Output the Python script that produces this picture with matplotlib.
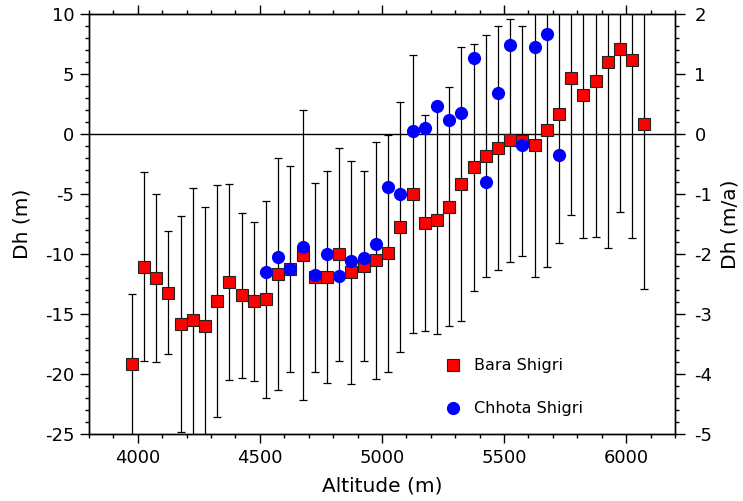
import matplotlib
matplotlib.use("Agg")
import matplotlib.pyplot as plt
from matplotlib.ticker import MultipleLocator

plt.rcParams['font.family'] = ['DejaVu Sans']
plt.rcParams['axes.unicode_minus'] = False

# Altitude bins (m)
altitude = [3975, 4025, 4075, 4125, 4175, 4225, 4275, 4325, 4375, 4425,
            4475, 4525, 4575, 4625, 4675, 4725, 4775, 4825, 4875, 4925,
            4975, 5025, 5075, 5125, 5175, 5225, 5275, 5325, 5375, 5425,
            5475, 5525, 5575, 5625, 5675, 5725, 5775, 5825, 5875, 5925,
            5975, 6025, 6075]

# Bara Shigri elevation change Dh (m)
bara_dh = [-19.2, -11.05, -12.03, -13.22, -15.85, -15.5, -16.0, -13.92, -12.35, -13.45,
           -13.95, -13.78, -11.67, -11.25, -10.08, -11.95, -11.92, -10.04, -11.53, -10.99,
           -10.54, -9.95, -7.76, -5.02, -7.39, -7.14, -6.06, -4.19, -2.77, -1.84,
           -1.16, -0.53, -0.58, -0.89, 0.33, 1.64, 4.64, 3.25, 4.39, 5.97,
           7.08, 6.19, 0.83]

# Bara Shigri error (m)
bara_err = [5.85, 7.9, 7.0, 5.1, 9.0, 11.0, 9.9, 9.7, 8.15, 6.9,
            6.6, 8.2, 9.7, 8.55, 12.1, 7.9, 8.8, 8.85, 9.3, 7.9,
            9.85, 9.9, 10.4, 11.6, 9.0, 9.5, 9.95, 11.4, 10.3, 10.05,
            10.2, 10.1, 9.6, 11.05, 11.45, 10.7, 11.4, 11.9, 12.95, 15.45,
            13.6, 14.85, 13.75]

# Chhota Shigri altitude bins (m) and Dh (m/a)
chhota_alt = [4525, 4575, 4625, 4675, 4725, 4775, 4825, 4875, 4925, 4975,
              5025, 5075, 5125, 5175, 5225, 5275, 5325, 5375, 5425, 5475,
              5525, 5575, 5625, 5675, 5725]
chhota_dh = [-2.294, -2.056, -2.25, -1.878, -2.35, -2.006, -2.362, -2.112, -2.072, -1.838,
             -0.878, -1.0, 0.056, 0.094, 0.472, 0.234, 0.344, 1.262, -0.8, 0.678,
             1.488, -0.184, 1.444, 1.662, -0.35]

fig = plt.figure(figsize=(7.43, 5.01), dpi=100)
ax = fig.add_axes([89/743, 67/501, 586/743, 420/501])

ax.axhline(0, color='black', lw=1.0, zorder=1)
ax.errorbar(altitude, bara_dh, yerr=bara_err, fmt='none', ecolor='black',
            elinewidth=0.9, capsize=2.6, capthick=0.9, zorder=2)
h1, = ax.plot(altitude, bara_dh, 's', color='#ff0000', markersize=9,
              markeredgecolor='#222222', markeredgewidth=0.8, zorder=3,
              label='Bara Shigri')

ax.set_xlim(3800, 6200)
ax.set_ylim(-25, 10)
ax.xaxis.set_major_locator(MultipleLocator(500))
ax.xaxis.set_minor_locator(MultipleLocator(100))
ax.yaxis.set_major_locator(MultipleLocator(5))
ax.yaxis.set_minor_locator(MultipleLocator(1))
ax.tick_params(which='both', direction='out', top=True, right=False,
               labelsize=13, width=1.0, colors='black')
ax.tick_params(which='major', length=6.5, pad=4)
ax.tick_params(which='minor', length=3)
ax.set_xlabel('Altitude (m)', fontsize=14.5, labelpad=7.5)
ax.set_ylabel('Dh (m)', fontsize=14.5, labelpad=9.5)

ax2 = ax.twinx()
h2, = ax2.plot(chhota_alt, chhota_dh, 'o', color='#0000ff', markersize=9.5,
               markeredgewidth=0, zorder=4, label='Chhota Shigri')
ax2.set_ylim(-5, 2)
ax2.yaxis.set_major_locator(MultipleLocator(1))
ax2.yaxis.set_minor_locator(MultipleLocator(0.2))
ax2.tick_params(which='both', direction='out', labelsize=13, width=1.0)
ax2.tick_params(which='major', length=7, pad=7)
ax2.tick_params(which='minor', length=3)
ax2.set_ylabel('Dh (m/a)', fontsize=14.5, labelpad=6)

for a in (ax, ax2):
    for s in a.spines.values():
        s.set_linewidth(1.0)

ax.legend(handles=[h1, h2], loc='upper left', bbox_to_anchor=(0.583, 0.214),
          frameon=False, fontsize=11.5, handlelength=1.0, handletextpad=0.8,
          labelspacing=1.75, borderpad=0.4)

fig.savefig('out.png', dpi=100)
